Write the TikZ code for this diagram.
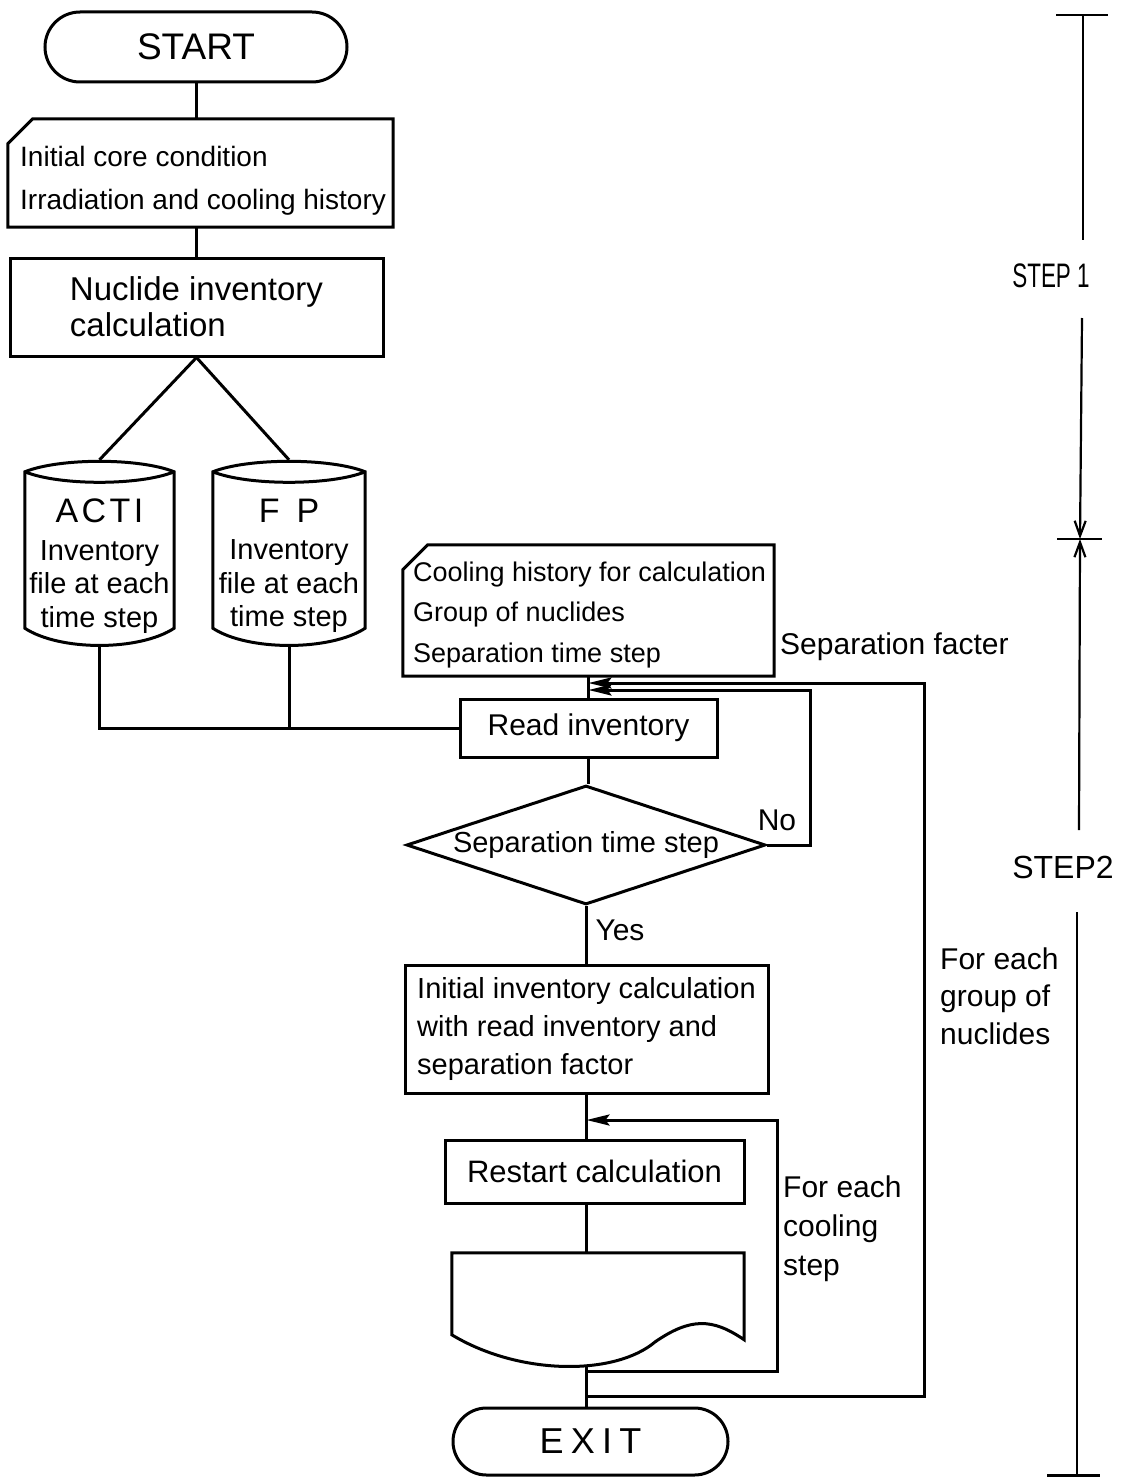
\documentclass[tikz,border=0pt]{standalone}
\usepackage{fontspec}
\setmainfont{Liberation Sans}
\usetikzlibrary{arrows.meta,calc,shapes.misc,shapes.geometric}

\newcommand\fsz[2]{\fontsize{#1}{#2}\selectfont}

\tikzset{
  flowline/.style={line width=3pt},
  terminal/.style={draw, rounded rectangle, line width=3pt, inner sep=0pt},
  procbox/.style={draw, rectangle, line width=3pt, inner sep=0pt},
  ghost/.style={rectangle, draw=none, inner sep=0pt},
  lbl/.style={inner sep=0pt, font=\fsz{30}{36}},
  backarrow/.style={line width=3pt, -{Stealth[length=23pt,width=11pt,inset=4pt]}},
  scaleline/.style={line width=2.2pt},
  scaletip/.style={line width=2.2pt, -{Straight Barb[length=15pt,width=11pt]}},
}

% card outline with the upper left corner cut off
\newcommand\cardoutline[1]{%
  \draw[flowline] ($(#1.north west)+(0,25)$) -- ($(#1.north west)+(25,0)$)
    -- (#1.north east) -- (#1.south east) -- (#1.south west) -- cycle;}

% magnetic drum outline around a ghost node
\newcommand\drumoutline[1]{%
  \draw[flowline] ($(#1.north west)+(0,12)$)
      .. controls ($(#1.north west)+(35,-2)$) and ($(#1.north east)+(-35,-2)$) .. ($(#1.north east)+(0,12)$)
      -- ($(#1.south east)+(0,-17)$)
      .. controls ($(#1.south east)+(-35,6)$) and ($(#1.south west)+(35,6)$) .. ($(#1.south west)+(0,-17)$)
      -- cycle;
  \draw[flowline] ($(#1.north west)+(0,12)$)
      .. controls ($(#1.north west)+(35,26)$) and ($(#1.north east)+(-35,26)$) .. ($(#1.north east)+(0,12)$);}

\begin{document}
\begin{tikzpicture}[x=1pt,y=-1pt]
\useasboundingbox (0,0) rectangle (1123,1477);

% ---- STEP 1 ----
\node[terminal, minimum width=302pt, minimum height=70pt, font=\fsz{37}{37}] (start) at (196,47) {START};

\node[ghost, minimum width=385pt, minimum height=108pt] (init) at (200.5,173) {};
\cardoutline{init}
\node[lbl, anchor=west, align=left, font=\fsz{28}{43}] (initT) at (20,181)
  {Initial core condition\\Irradiation and cooling history};

\node[procbox, minimum width=373pt, minimum height=98pt, align=left, font=\fsz{33}{36}] (nuc) at (196.5,307)
  {Nuclide inventory\\calculation};

\draw[flowline] (start.south) -- (start.south |- init.north);
\draw[flowline] (start.south |- init.south) -- (start.south |- nuc.north);

\node[ghost, minimum width=149pt, minimum height=185pt] (acti) at (99.5,552.5) {};
\node[ghost, minimum width=152pt, minimum height=185pt] (fp) at (289,552.5) {};
\drumoutline{acti}
\drumoutline{fp}
\node[lbl, align=center, font=\fsz{29}{33.5}] (actiT) at (99.5,566)
  {{\fsz{34}{34}\addfontfeature{LetterSpace=10}ACTI}\\[4pt]Inventory\\file at each\\time step};
\node[lbl, align=center, font=\fsz{29}{33.5}] (fpT) at (289,566)
  {{\fsz{34}{34}\addfontfeature{LetterSpace=50}FP}\\[4pt]Inventory\\file at each\\time step};

\draw[flowline] (nuc.south) -- (acti.north);
\draw[flowline] (nuc.south) -- (fp.north);

% ---- STEP 2 ----
\node[ghost, minimum width=371pt, minimum height=131pt] (cond) at (588.5,610.5) {};
\cardoutline{cond}
\node[lbl, anchor=west, align=left, font=\fsz{27}{40.5}] (condT) at (413,615)
  {Cooling history for calculation\\Group of nuclides\\Separation time step};
\node[lbl, anchor=west] (sepf) at (780,647) {Separation facter};

\node[procbox, minimum width=257pt, minimum height=58pt, font=\fsz{30}{30}] (read) at (588.5,728) {Read inventory};
\draw[flowline] (cond.south) -- (read.north);
\draw[flowline] (acti.south) |- (read.west);
\draw[flowline] (fp.south) -- (fp.south |- read.west);

\node[diamond, draw, line width=3pt, inner sep=0pt, shape aspect=3,
      minimum width=359pt, minimum height=119pt, font=\fsz{29}{29}] (dec) at (586,845) {Separation time step};
\draw[flowline] (read.south) -- (read.south |- dec.north);
\node[lbl] (no) at (777,820) {No};
\node[lbl] (yes) at (620,930) {Yes};

\node[procbox, minimum width=363pt, minimum height=128pt, align=left, font=\fsz{29}{38}] (initinv) at (586.5,1029)
  {Initial inventory calculation\\with read inventory and\\separation factor};
\draw[flowline] (dec.south) -- (dec.south |- initinv.north);

\node[procbox, minimum width=299pt, minimum height=63pt, font=\fsz{31}{31}] (restart) at (594.5,1171.5) {Restart calculation};
\draw[flowline] (initinv.south) -- (initinv.south |- restart.north);

% printed output
\node[ghost, minimum width=292pt, minimum height=114pt] (doc) at (598,1310) {};
\draw[flowline] (doc.north west) -- (doc.north east) -- ($(doc.north east)+(0,87)$)
   .. controls ($(doc.north east)+(-32,65)$) and ($(doc.north east)+(-54,65)$) .. ($(doc.north east)+(-89,89)$)
   .. controls ($(doc.north east)+(-129,123)$) and ($(doc.north west)+(68,123)$) .. ($(doc.north west)+(0,82)$)
   -- cycle;
\draw[flowline] (initinv.south |- restart.south) -- (initinv.south |- doc.north);

\node[terminal, minimum width=275pt, minimum height=67pt, font=\fsz{36}{36}] (exit) at (590.5,1441.5)
  {\addfontfeature{LetterSpace=20}EXIT};
\coordinate (docout) at (initinv.south |- doc.south);
\draw[flowline] (docout) -- (docout |- exit.north);

% loops
\coordinate (coolret) at (586.5,1371);
\coordinate (coolcorner) at (777,1120);
\draw[backarrow] (coolret) -| (coolcorner) -- (coolcorner -| initinv.south);
\coordinate (grpret) at (586.5,1396);
\coordinate (grpcorner) at (924,683);
\draw[backarrow] (grpret) -| (grpcorner) -- (grpcorner -| cond.south);
\coordinate (nocorner) at (810,690);
\draw[backarrow] (dec.east) -| (nocorner) -- (nocorner -| cond.south);

\node[lbl, anchor=west, align=left, font=\fsz{30}{39}] (coolT) at (783,1229) {For each\\cooling\\step};
\node[lbl, anchor=west, align=left, font=\fsz{30}{37.5}] (grpT) at (940,996) {For each\\group of\\nuclides};

% ---- step scale ----
\coordinate (s1top) at (1083,15);
\coordinate (s1a) at (1083,240);
\coordinate (s1b) at (1082,318);
\coordinate (smid) at (1080,539);
\coordinate (s2a) at (1079,830);
\coordinate (s2b) at (1077,912);
\coordinate (s2end) at (1077,1477);
\draw[scaleline] ($(s1top)+(-27,0)$) -- ($(s1top)+(25,0)$);
\draw[scaleline] (s1top) -- (s1a);
\node[lbl, font=\fsz{34}{34}] (step1) at (1051,276) {\scalebox{0.66}[1]{STEP 1}};
\draw[scaletip] (s1b) -- (smid);
\draw[scaleline] ($(smid)+(-23,0)$) -- ($(smid)+(22,0)$);
\draw[scaletip] (s2a) -- (smid);
\node[lbl, font=\fsz{32}{32}] (step2) at (1063,867) {STEP2};
\draw[scaleline] (s2b) -- (s2end);
\draw[scaleline] ($(s2end)+(-30,-1.5)$) -- ($(s2end)+(23,-1.5)$);
\end{tikzpicture}
\end{document}
